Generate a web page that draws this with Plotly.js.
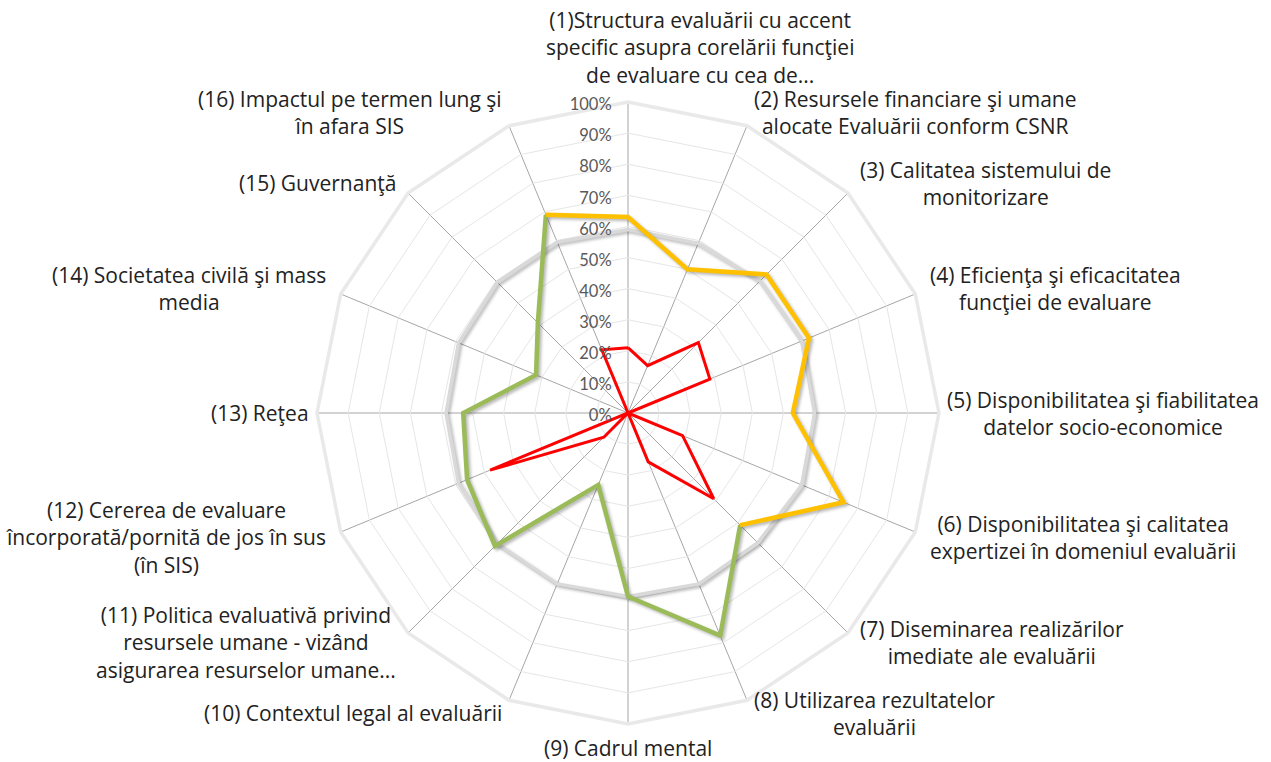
<!DOCTYPE html>
<html>
<head>
<meta charset="utf-8">
<script src="https://cdn.plot.ly/plotly-3.0.1.min.js"></script>
<style>
  html, body { margin: 0; padding: 0; background: #ffffff; }
  #chart { width: 1271px; height: 762px; }
</style>
</head>
<body>
<div id="chart"></div>
<script>
// Category labels (clockwise from the top)
const categories = [
  "(1)Structura evaluării cu accent<br>specific asupra corelării funcţiei<br>de evaluare cu cea de...",
  "(2) Resursele financiare şi umane<br>alocate Evaluării conform CSNR",
  "(3) Calitatea sistemului de<br>monitorizare",
  "(4) Eficienţa şi eficacitatea<br>funcţiei de evaluare",
  "(5) Disponibilitatea şi fiabilitatea<br>datelor socio-economice",
  "(6) Disponibilitatea şi calitatea<br>expertizei în domeniul evaluării",
  "(7) Diseminarea realizărilor<br>imediate ale evaluării",
  "(8) Utilizarea rezultatelor<br>evaluării",
  "(9) Cadrul mental",
  "(10) Contextul legal al evaluării",
  "(11) Politica evaluativă privind<br>resursele umane - vizând<br>asigurarea resurselor umane...",
  "(12) Cererea de evaluare<br>încorporată/pornită de jos în sus<br>(în SIS)",
  "(13) Reţea",
  "(14) Societatea civilă şi mass<br>media",
  "(15) Guvernanţă",
  "(16) Impactul pe termen lung şi<br>în afara SIS"
];

// Series values (fractions, shown as %)
const greyValues   = [0.59, 0.59, 0.60, 0.605, 0.60, 0.605, 0.59, 0.595, 0.59, 0.595, 0.595, 0.59, 0.585, 0.59, 0.595, 0.595];
const redValues    = [0.21, 0.165, 0.32, 0.285, 0.0, 0.19, 0.39, 0.17, 0.0, 0.0, 0.11, 0.48, 0.0, 0.0, 0.0, 0.22];
const yellowValues = [0.63, 0.50, 0.63, 0.63, 0.53, 0.75, 0.51, null, null, null, null, null, null, null, null, 0.69];
const greenValues  = [null, null, null, null, null, null, 0.51, 0.775, 0.59, 0.25, 0.605, 0.56, 0.53, 0.32, 0.41, 0.69];

// Radial tick values
const radialTicks = [0, 0.1, 0.2, 0.3, 0.4, 0.5, 0.6, 0.7, 0.8, 0.9, 1.0];

function closed(arr) { return arr.concat([arr[0]]); }
function rotate(arr, start) { return arr.slice(start).concat(arr.slice(0, start)); }

const W = 1271, H = 762;
const domX = [0.2494, 0.7388], domY = [0.0499, 0.8661];

const traces = [
  {
    type: 'scatterpolar', mode: 'lines',
    theta: closed(categories), r: closed(greyValues),
    line: { color: '#D9D9D9', width: 3.5 },
    hoverinfo: 'skip'
  },
  {
    type: 'scatterpolar', mode: 'lines',
    theta: categories, r: greenValues,
    line: { color: '#9BBB59', width: 4.5 },
    connectgaps: false, hoverinfo: 'skip'
  },
  {
    type: 'scatterpolar', mode: 'lines',
    theta: rotate(categories, 15), r: rotate(yellowValues, 15),
    line: { color: '#FFC000', width: 4.5 },
    connectgaps: false, hoverinfo: 'skip'
  },
  {
    type: 'scatterpolar', mode: 'lines',
    theta: closed(categories), r: closed(redValues),
    line: { color: '#FF0000', width: 3 },
    hoverinfo: 'skip'
  }
];

// Category labels as centred text blocks placed just outside each spoke end
const cxPx = (domX[0] + domX[1]) / 2 * W;
const cyPx = (1 - (domY[0] + domY[1]) / 2) * H;
const Rpx = Math.min((domX[1] - domX[0]) * W, (domY[1] - domY[0]) * H) / 2;

const annotations = categories.map((label, i) => {
  const a = i * 2 * Math.PI / categories.length;
  const s = Math.sin(a), c = Math.cos(a);
  const isVertical = Math.abs(s) < 0.05;
  const isHorizontal = Math.abs(c) < 0.05;
  const gap = isVertical ? (c > 0 ? 11 : 8) : (isHorizontal ? 6 : 14);
  const px = cxPx + (Rpx + gap) * s;
  const py = cyPx - (Rpx + gap) * c;
  const xanchor = isVertical ? 'center' : (s > 0 ? 'left' : 'right');
  const yanchor = isVertical ? (c > 0 ? 'bottom' : 'top') : 'middle';
  return {
    xref: 'paper', yref: 'paper',
    x: px / W, y: 1 - py / H,
    xanchor: xanchor, yanchor: yanchor, align: 'center',
    xshift: i === 0 ? 72 : 0,
    showarrow: false, text: label,
    font: { family: 'Open Sans, sans-serif', size: 21, color: '#222222' }
  };
});

const layout = {
  width: W, height: H,
  margin: { l: 0, r: 0, t: 0, b: 0 },
  paper_bgcolor: '#ffffff',
  showlegend: false,
  font: { family: 'Open Sans, sans-serif', size: 19, color: '#262626' },
  annotations: annotations,
  polar: {
    domain: { x: domX, y: domY },
    bgcolor: '#ffffff',
    gridshape: 'linear',
    radialaxis: {
      range: [0, 1],
      tickvals: radialTicks,
      tickformat: '.0%',
      angle: 90,
      side: 'counterclockwise',
      showline: false,
      ticks: 'outside', ticklen: 1, tickcolor: 'rgba(0,0,0,0)',
      gridcolor: '#E6E6E6', gridwidth: 1,
      tickfont: { family: 'Lato, sans-serif', size: 16.5, color: '#595959' }
    },
    angularaxis: {
      type: 'category',
      categoryorder: 'array',
      categoryarray: categories,
      direction: 'clockwise',
      rotation: 90,
      ticks: '',
      showticklabels: false,
      showline: true, linecolor: '#E9E9E9', linewidth: 3.5,
      gridcolor: '#A6A6A6', gridwidth: 1
    }
  }
};

Plotly.newPlot('chart', traces, layout, { staticPlot: true, displayModeBar: false }).then(gd => {
  // soft drop shadow under the grey, green and yellow series (as in the original)
  const groups = gd.querySelectorAll('.scatterlayer .trace');
  [0, 1, 2].forEach(k => {
    if (groups[k]) groups[k].style.filter = 'drop-shadow(2px 2px 1.5px rgba(0,0,0,0.28))';
  });
});
</script>
</body>
</html>
